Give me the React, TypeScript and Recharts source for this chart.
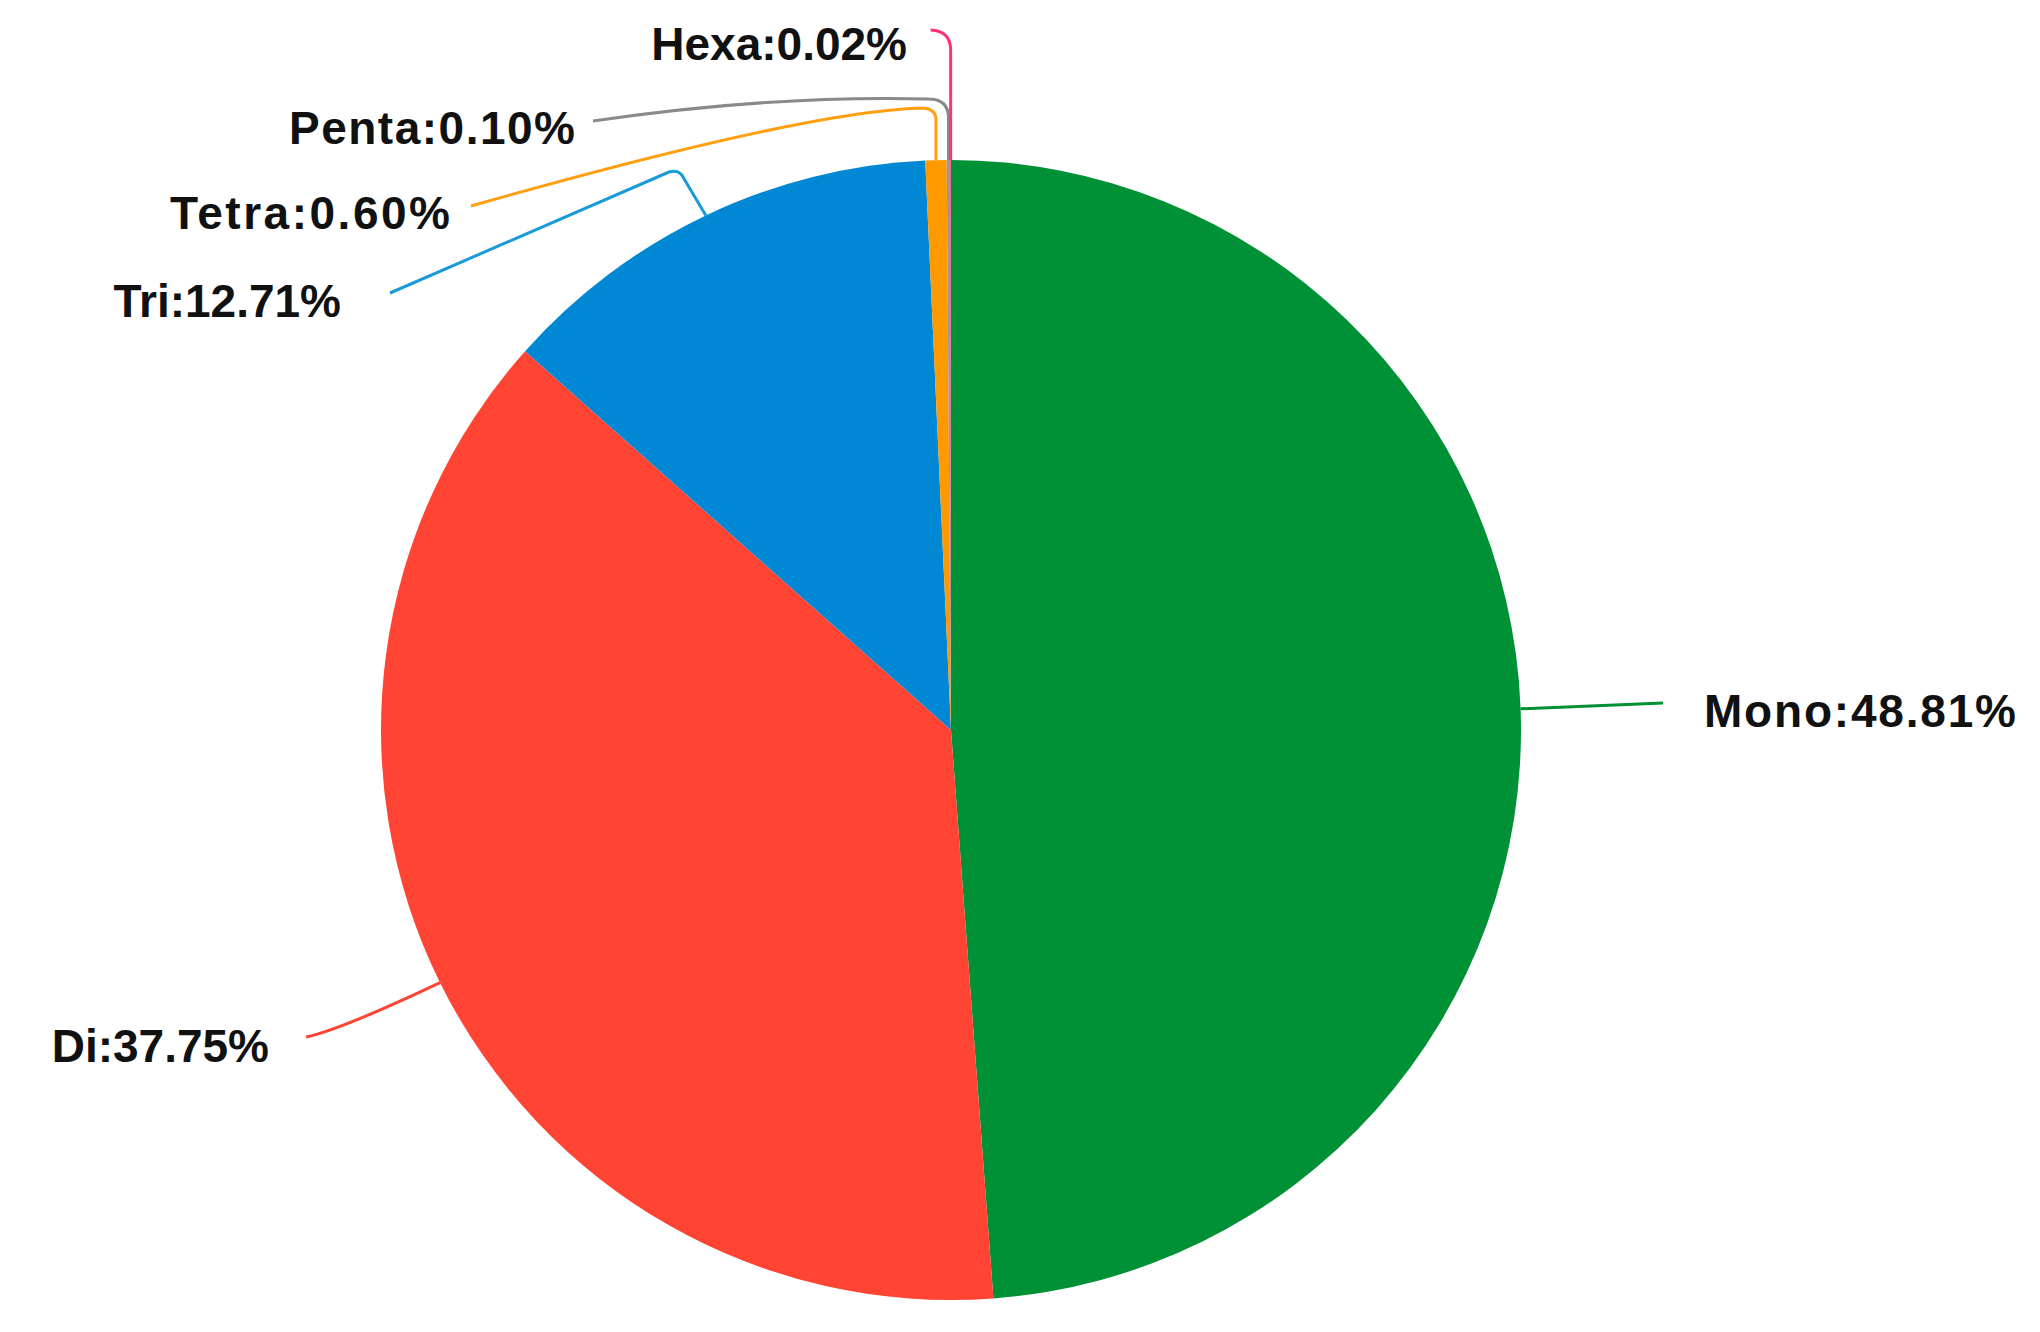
import { PieChart, Pie, Cell } from "recharts";

const NAMES = ["Mono", "Di", "Tri", "Tetra", "Penta", "Hexa"];
const SHARES = [48.81, 37.75, 12.71, 0.6, 0.1, 0.02];
const COLORS = ["#009035", "#ff4433", "#0088d4", "#ff9900", "#999999", "#ff3377"];
const LINE_COLORS = ["#009035", "#ff4433", "#1a9ad8", "#ff9f10", "#8a8a8a", "#ff3377"];

const data = NAMES.map((name, i) => ({ name, value: SHARES[i] }));

const W = 2040;
const H = 1332;
const CX = 951;
const CY = 730;
const R = 570;

// where each label sits and how its leader runs, relative to the pie centre
type Layout = {
  tx: number;
  ty: number;
  anchor: "start" | "end";
  len?: number;
  path: (sx: number, sy: number, cx: number, cy: number) => string;
};

const LAYOUT: Layout[] = [
  {
    tx: 753, ty: -3, anchor: "start", len: 312,
    path: (sx, sy, cx, cy) => `M${sx},${sy} L${cx + 712},${cy - 27}`,
  },
  {
    tx: -682, ty: 332, anchor: "end",
    path: (sx, sy, cx, cy) => `M${sx},${sy} Q${cx - 611},${cy + 300} ${cx - 645},${cy + 307}`,
  },
  {
    tx: -610, ty: -413, anchor: "end",
    path: (sx, sy, cx, cy) =>
      `M${sx},${sy} L${cx - 268},${cy - 553} Q${cx - 272},${cy - 561} ${cx - 282},${cy - 558} L${cx - 561},${cy - 437}`,
  },
  {
    tx: -501, ty: -501, anchor: "end", len: 280,
    path: (sx, sy, cx, cy) =>
      `M${sx},${sy} L${sx},${cy - 610} Q${sx},${cy - 622} ${sx - 15},${cy - 622} Q${cx - 150},${cy - 618} ${cx - 480},${cy - 524}`,
  },
  {
    tx: -376, ty: -586, anchor: "end", len: 286,
    path: (sx, sy, cx, cy) =>
      `M${sx},${sy} L${sx},${cy - 612} Q${sx},${cy - 631} ${sx - 20},${cy - 631} Q${cx - 180},${cy - 635} ${cx - 358},${cy - 609}`,
  },
  {
    tx: -44, ty: -670, anchor: "end",
    path: (sx, sy, cx, cy) =>
      `M${sx},${sy} L${sx},${cy - 680} Q${sx},${cy - 699} ${sx - 20},${cy - 700}`,
  },
];

const RAD = Math.PI / 180;

const renderLabel = (props: any) => {
  const { cx, cy, midAngle, outerRadius, index, name, value } = props;
  const lay = LAYOUT[index];
  const sx = cx + outerRadius * Math.cos(-midAngle * RAD);
  const sy = cy + outerRadius * Math.sin(-midAngle * RAD);
  return (
    <g key={`lbl-${index}`}>
      <path
        d={lay.path(sx, sy, cx, cy)}
        fill="none"
        stroke={LINE_COLORS[index]}
        strokeWidth={3}
      />
      <text
        x={cx + lay.tx}
        y={cy + lay.ty}
        textAnchor={lay.anchor}
        fontFamily="'Liberation Sans', Arial, sans-serif"
        fontWeight="bold"
        fontSize={46}
        fill="#111"
        {...(lay.len ? { textLength: lay.len, lengthAdjust: "spacing" } : {})}
      >
        {`${name}:${Number(value).toFixed(2)}%`}
      </text>
    </g>
  );
};

export default function App() {
  return (
    <div style={{ position: "absolute", left: 0, top: 0, width: W, height: H, background: "#fff" }}>
      <PieChart width={W} height={H} margin={{ top: 0, right: 0, bottom: 0, left: 0 }}>
        <Pie
          data={data}
          dataKey="value"
          nameKey="name"
          cx={CX}
          cy={CY}
          outerRadius={R}
          startAngle={90}
          endAngle={-270}
          stroke="none"
          label={renderLabel}
          labelLine={false}
          isAnimationActive={false}
        >
          {data.map((d, i) => (
            <Cell key={`cell-${i}`} fill={COLORS[i]} />
          ))}
        </Pie>
      </PieChart>
    </div>
  );
}
